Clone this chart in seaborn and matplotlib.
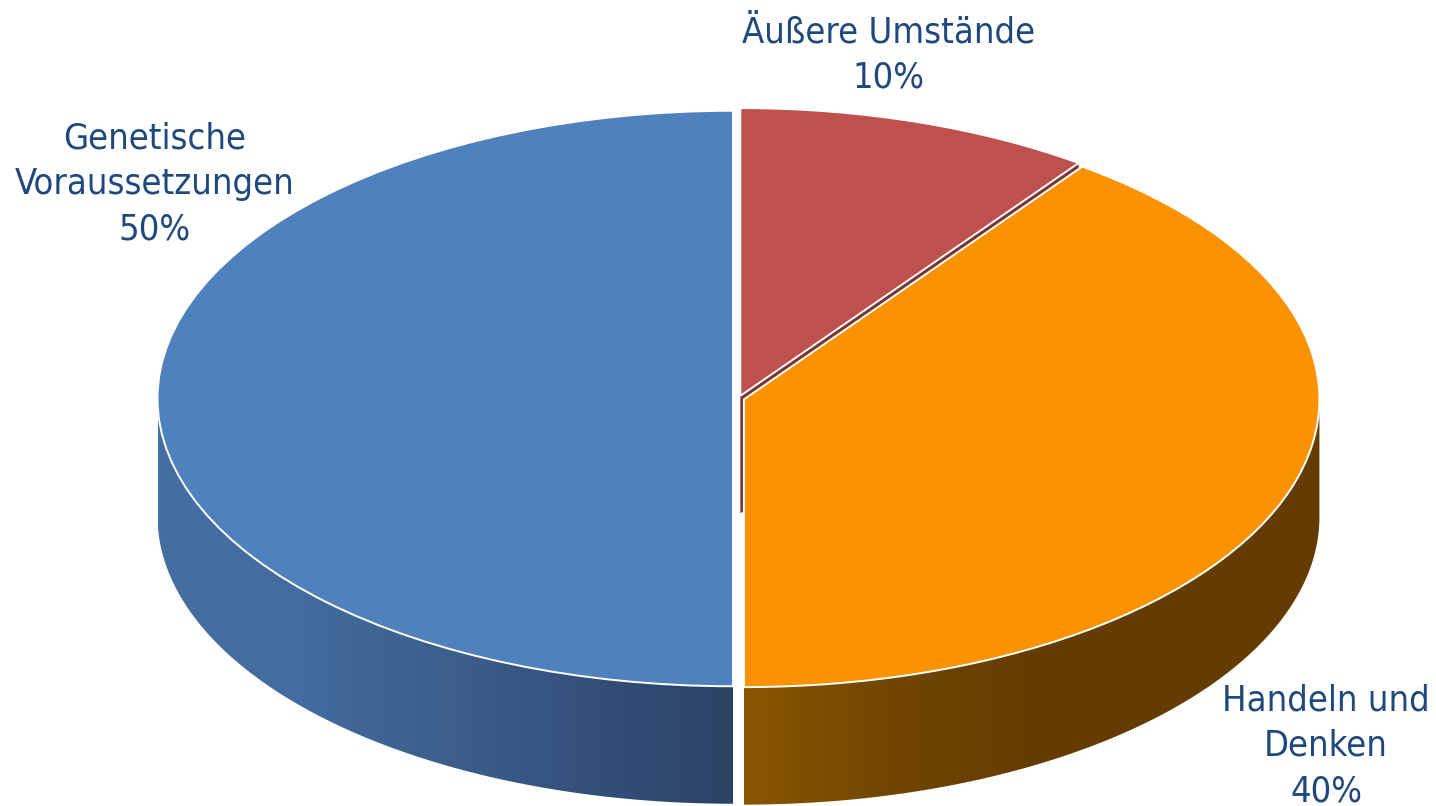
import numpy as np
import seaborn as sns
import matplotlib.pyplot as plt
from matplotlib.patches import Polygon

W, H = 1436, 806

categories = ['Äußere Umstände', 'Handeln und\nDenken', 'Genetische\nVoraussetzungen']
shares = [10, 40, 50]
top_colors = ['#be504d', '#fb9300', '#4f81bd']
wall_colors = [['#7a3533', '#7a3533'],
               ['#8a5600', '#704600', '#653c00', '#653c00', '#653c00'],
               ['#456fa3', '#436b9e', '#3c5f8c', '#33507a', '#2b4364']]
label_pos = [(889, 55), (1326, 746), (155, 184)]

SQUASH = 0.5      # tilt of the disc, y pixels per x pixel
DEPTH = 117.5 / SQUASH
CENTER = (738.6, (H - 398.5) / SQUASH)
RADIUS = 575.5
GAP = 5.6


def hull(points):
    pts = sorted(set(map(tuple, points)))
    def half(seq):
        out = []
        for p in seq:
            while len(out) > 1:
                a, b = out[-2], out[-1]
                if (b[0] - a[0]) * (p[1] - b[1]) - (b[1] - a[1]) * (p[0] - b[0]) > 0:
                    break
                out.pop()
            out.append(p)
        return out[:-1]
    return np.array(half(pts) + half(pts[::-1]))


sns.set_theme(style='white')
plt.rcParams['font.family'] = ['DejaVu Sans']

fig = plt.figure(figsize=(W / 100, H / 100), dpi=100)
ax = fig.add_axes([0, 0, 1, 1])

wedges, _ = ax.pie(shares, colors=top_colors, startangle=90, counterclock=False,
                   center=CENTER, radius=RADIUS, explode=[GAP] * len(shares),
                   wedgeprops={'edgecolor': 'white', 'linewidth': 1.4})
ax.set_aspect('auto')

# side walls: the top face swept downwards, shaded left to right
for i, w in enumerate(wedges):
    t = np.radians(np.linspace(w.theta1, w.theta2, 200))
    cx, cy = w.center
    outline = np.column_stack([cx + w.r * np.cos(t), cy + w.r * np.sin(t)])
    outline = np.vstack([outline, [cx, cy]])
    swept = hull(np.vstack([outline, outline - [0, DEPTH]]))

    wall = Polygon(swept, closed=True, facecolor='none', edgecolor='none', transform=ax.transData)
    ax.add_patch(wall)
    grad = np.array(sns.blend_palette(wall_colors[i], n_colors=256))[np.newaxis, :, :3]
    im = ax.imshow(grad, aspect='auto', interpolation='bilinear', origin='lower',
                   extent=(swept[:, 0].min(), swept[:, 0].max(), swept[:, 1].min(), swept[:, 1].max()))
    im.set_clip_path(wall)
    z = 2 * i + 1
    im.set_zorder(z)
    w.set_zorder(z + 1)

ax.set_aspect('auto')
ax.set_xlim(0, W)
ax.set_ylim(0, H / SQUASH)
ax.axis('off')

for cat, val, (x, y) in zip(categories, shares, label_pos):
    fig.text(x / W, 1 - y / H, f'{cat}\n{val}%', ha='center', va='center', color='#1f497d',
             fontsize=26, fontstretch='condensed', linespacing=1.42)

fig.savefig('out.png', dpi=100)
